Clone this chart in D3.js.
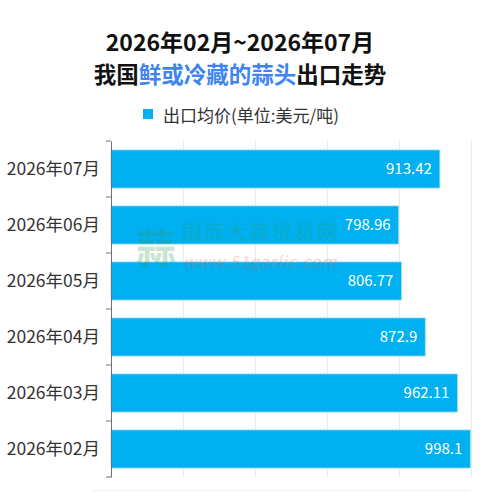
<!DOCTYPE html>
<html>
<head>
<meta charset="utf-8">
<script src="https://cdn.jsdelivr.net/npm/d3@7"></script>
<style>
  html, body { margin: 0; padding: 0; background: #fff; }
  svg { display: block; font-family: "Noto Sans CJK SC", "Noto Sans", sans-serif; }
</style>
</head>
<body>
<div id="chart"></div>
<script>
// data, top bar first
var months = ['2026年07月', '2026年06月', '2026年05月', '2026年04月', '2026年03月', '2026年02月'];
var prices = [913.42, 798.96, 806.77, 872.9, 962.11, 998.1];
var xTicks = [0, 200, 400, 600, 800, 1000];
var seriesName = '出口均价(单位:美元/吨)';

var W = 481, H = 492;
var svg = d3.select('#chart').append('svg')
    .attr('width', W)
    .attr('height', H);

// title
svg.append('text')
    .attr('x', 240).attr('y', 51)
    .attr('text-anchor', 'middle')
    .attr('font-size', 23).attr('font-weight', 'bold')
    .attr('fill', '#111')
    .text('2026年02月~2026年07月');
var t2 = svg.append('text')
    .attr('x', 240).attr('y', 83)
    .attr('text-anchor', 'middle')
    .attr('font-size', 22.5).attr('font-weight', 'bold')
    .attr('fill', '#111');
t2.append('tspan').text('我国');
t2.append('tspan').attr('fill', '#3f85f2').text('鲜或冷藏的蒜头');
t2.append('tspan').text('出口走势');

// legend
svg.append('rect')
    .attr('x', 143).attr('y', 109)
    .attr('width', 10).attr('height', 10)
    .attr('fill', '#00b0f0');
svg.append('text')
    .attr('x', 163).attr('y', 120)
    .attr('dy', '0.1em')
    .attr('font-size', 17).attr('fill', '#333')
    .text(seriesName);

var x = d3.scaleLinear().domain([0, 1000]).range([111, 471]);
var y = d3.scaleBand().domain(months).range([141, 477]).paddingInner(0.32).paddingOuter(0.16);

// grid
svg.append('g').selectAll('line')
    .data(xTicks.slice(1))
    .join('line')
    .attr('x1', d => x(d) + 0.5).attr('x2', d => x(d) + 0.5)
    .attr('y1', 141).attr('y2', 477)
    .attr('stroke', '#e6e9f0').attr('stroke-width', 1);

// bars
svg.append('g').selectAll('rect')
    .data(prices)
    .join('rect')
    .attr('x', x(0))
    .attr('y', (d, i) => y(months[i]))
    .attr('width', d => x(d) - x(0))
    .attr('height', y.bandwidth())
    .attr('fill', '#00b0f0')
    .attr('stroke', '#8fdcf8').attr('stroke-width', 0.8);

// value labels
svg.append('g').selectAll('text')
    .data(prices)
    .join('text')
    .attr('x', d => x(d) - 8)
    .attr('y', (d, i) => y(months[i]) + y.bandwidth() / 2)
    .attr('dy', '0.35em')
    .attr('text-anchor', 'end')
    .attr('font-size', 15)
    .attr('fill', '#fff')
    .text(d => d);

// y axis
var yAxis = d3.axisLeft(y).tickSize(0).tickPadding(11);
var ya = svg.append('g')
    .attr('transform', 'translate(' + x(0) + ',0)')
    .call(yAxis);
ya.select('.domain').attr('stroke', '#6e7079');
ya.selectAll('text').attr('font-size', 17.5).attr('fill', '#333')
    .attr('font-family', '"Noto Sans CJK SC", sans-serif');
// boundary ticks between categories
var bounds = d3.range(months.length + 1).map(i => 141 + i * (336 / months.length));
ya.selectAll('line.bt')
    .data(bounds)
    .join('line')
    .attr('class', 'bt')
    .attr('x1', -5).attr('x2', 0)
    .attr('y1', d => d).attr('y2', d => d)
    .attr('stroke', '#6e7079');

// watermark, drawn over the bars
var wm = svg.append('g').attr('opacity', 0.25).style('pointer-events', 'none');
wm.append('text')
    .attr('x', 136).attr('y', 263)
    .attr('font-size', 40).attr('font-weight', 'bold')
    .attr('fill', '#2f9a55')
    .text('蒜');
wm.append('text')
    .attr('x', 182).attr('y', 240)
    .attr('font-size', 20)
    .attr('letter-spacing', 2.5)
    .attr('fill', '#2f9a55')
    .text('国际大蒜贸易网');
wm.append('text')
    .attr('x', 183).attr('y', 268)
    .attr('font-size', 16.5).attr('font-style', 'italic')
    .attr('fill', '#e8603a')
    .attr('letter-spacing', 0.8)
    .text('www.51garlic.com');

// bottom faint line
svg.append('line')
    .attr('x1', 93).attr('x2', 470)
    .attr('y1', 490.5).attr('y2', 490.5)
    .attr('stroke', '#eeeeee');
</script>
</body>
</html>
